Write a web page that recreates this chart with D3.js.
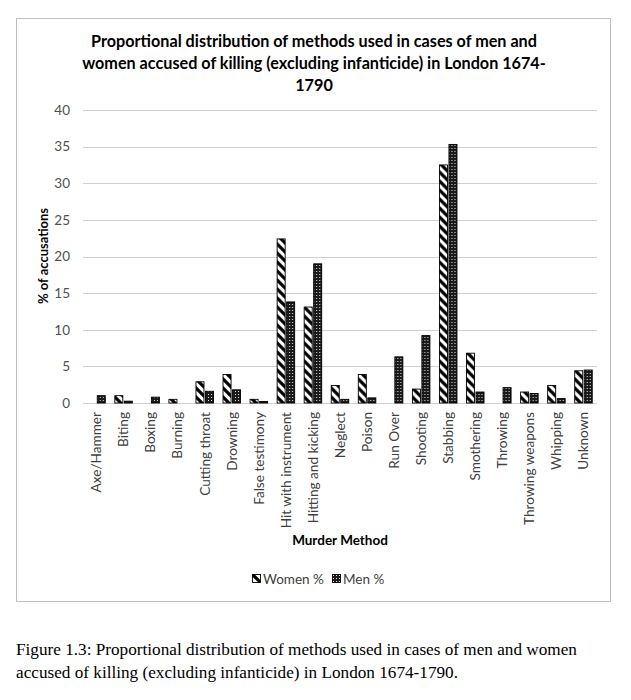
<!DOCTYPE html>
<html>
<head>
<meta charset="utf-8">
<script src="https://cdn.jsdelivr.net/npm/d3@7"></script>
<style>
  body { margin: 0; background: #fff; }
  svg { display: block; }
</style>
</head>
<body>
<svg id="chart" width="631" height="700"></svg>
<script>
const categories = ["Axe/Hammer","Biting","Boxing","Burning","Cutting throat","Drowning","False testimony","Hit with instrument","Hitting and kicking","Neglect","Poison","Run Over","Shooting","Stabbing","Smothering","Throwing","Throwing weapons","Whipping","Unknown"];
const women = [0, 1.0, 0, 0.5, 2.9, 3.9, 0.5, 22.4, 13.1, 2.4, 3.9, 0, 1.9, 32.5, 6.8, 0, 1.5, 2.4, 4.4];
const men   = [1.0, 0.25, 0.8, 0, 1.6, 1.8, 0.2, 13.8, 19.0, 0.5, 0.7, 6.3, 9.2, 35.3, 1.5, 2.1, 1.3, 0.6, 4.5];
const seriesNames = ["Women %", "Men %"];
const yTicks = [0, 5, 10, 15, 20, 25, 30, 35, 40];
const titleLines = ["Proportional distribution of methods used in cases of men and", "women accused of killing (excluding infanticide) in London 1674-", "1790"];
const captionLines = ["Figure 1.3: Proportional distribution of methods used in cases of men and women", "accused of killing (excluding infanticide) in London 1674-1790."];

(function () {
const font = "Lato, 'Open Sans', sans-serif";
const svg = d3.select("#chart");
svg.append("rect").attr("width", 631).attr("height", 700).attr("fill", "#fff");

const defs = svg.append("defs");
const pw = defs.append("pattern").attr("id", "pWomen").attr("patternUnits", "userSpaceOnUse")
  .attr("width", 9).attr("height", 9);
pw.append("rect").attr("width", 9).attr("height", 9).attr("fill", "#fff");
pw.append("path").attr("d", "M-2,-2 L11,11 M-2,7 L2,11 M7,-2 L11,2").attr("stroke", "#000").attr("stroke-width", 3.2);

const pm = defs.append("pattern").attr("id", "pMen").attr("patternUnits", "userSpaceOnUse")
  .attr("width", 3).attr("height", 3);
pm.append("rect").attr("width", 3).attr("height", 3).attr("fill", "#1a1a1a");
pm.append("rect").attr("x", 1).attr("y", 1).attr("width", 1).attr("height", 1).attr("fill", "#e0e0e0");

const fills = ["url(#pWomen)", "url(#pMen)"];

// outer chart border
svg.append("rect").attr("x", 16.5).attr("y", 18.5).attr("width", 594).attr("height", 583)
  .attr("fill", "none").attr("stroke", "#c0c0c0").attr("stroke-width", 1);

// title
svg.append("g").selectAll("text").data(titleLines).join("text")
  .attr("x", 314).attr("y", (d, i) => 47 + i * 22)
  .attr("text-anchor", "middle").attr("font-family", font).attr("font-weight", "bold")
  .attr("font-size", 16.2).attr("fill", "#000").text(d => d);

const pLeft = 83, pRight = 597, pTop = 110, pBottom = 403;
const x = d3.scaleBand().domain(categories).range([pLeft, pRight]).paddingInner(0.28).paddingOuter(0.14);
const xs = d3.scaleBand().domain(seriesNames).range([0, x.bandwidth()]).padding(0.05);
const y = d3.scaleLinear().domain([0, 40]).range([pBottom, pTop]);

// gridlines
svg.append("g").selectAll("line").data(yTicks).join("line")
  .attr("x1", pLeft).attr("x2", pRight)
  .attr("y1", d => Math.round(y(d)) + 0.5).attr("y2", d => Math.round(y(d)) + 0.5)
  .attr("stroke", "#d0d0d0").attr("stroke-width", 1);

// y axis labels
const yAxis = svg.append("g").attr("transform", `translate(${pLeft - 13},0)`)
  .call(d3.axisLeft(y).tickValues(yTicks).tickSize(0).tickPadding(0));
yAxis.select(".domain").remove();
yAxis.selectAll("text").attr("font-family", font).attr("font-size", 13.5).attr("fill", "#505050");

// bars
const data = categories.map((c, i) => ({ c, vals: [women[i], men[i]] }));
const groups = svg.append("g").selectAll("g").data(data).join("g")
  .attr("transform", d => `translate(${x(d.c)},0)`);
groups.selectAll("rect").data(d => d.vals.map((v, k) => ({ v, k })).filter(e => e.v > 0)).join("rect")
  .attr("x", d => xs(seriesNames[d.k]) + 0.5)
  .attr("y", d => y(d.v))
  .attr("width", xs.bandwidth() - 1)
  .attr("height", d => pBottom - y(d.v))
  .attr("fill", d => fills[d.k])
  .attr("stroke", "#000").attr("stroke-width", 0.9);

// x axis labels
const xAxis = svg.append("g").attr("transform", `translate(0,${pBottom})`)
  .call(d3.axisBottom(x).tickSize(0).tickPadding(0));
xAxis.select(".domain").remove();
xAxis.selectAll("text")
  .attr("font-family", font).attr("font-size", 13.6).attr("fill", "#404040")
  .attr("transform", "rotate(-90)").attr("text-anchor", "end")
  .attr("x", -9).attr("y", 0).attr("dy", "0.35em");

// axis titles
svg.append("text").attr("transform", "translate(48,256) rotate(-90)")
  .attr("text-anchor", "middle").attr("font-family", font).attr("font-weight", "bold")
  .attr("font-size", 13).attr("fill", "#000").text("% of accusations");
svg.append("text").attr("x", (pLeft + pRight) / 2).attr("y", 545)
  .attr("text-anchor", "middle").attr("font-family", font).attr("font-weight", "bold")
  .attr("font-size", 13.5).attr("fill", "#000").text("Murder Method");

// legend
const legendItems = [{ name: seriesNames[0], x: 252 }, { name: seriesNames[1], x: 332 }];
const lg = svg.append("g").selectAll("g").data(legendItems).join("g")
  .attr("transform", d => `translate(${d.x},574)`);
lg.append("rect").attr("width", 8).attr("height", 8).attr("x", 0.5).attr("y", 0.5)
  .attr("fill", (d, i) => fills[i]).attr("stroke", "#000").attr("stroke-width", 0.9);
lg.append("text").attr("x", 11).attr("y", 9.5).attr("font-family", font).attr("font-size", 13.5)
  .attr("fill", "#404040").text(d => d.name);

// caption
svg.append("g").selectAll("text").data(captionLines).join("text")
  .attr("x", 16).attr("y", (d, i) => 655 + i * 23)
  .attr("font-family", "'Liberation Serif', 'Times New Roman', serif").attr("font-size", 17.2)
  .attr("fill", "#000").text(d => d);
})();
</script>
</body>
</html>
